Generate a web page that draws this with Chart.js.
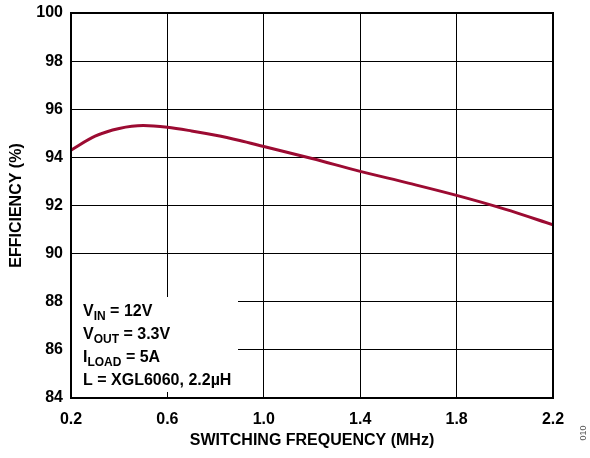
<!DOCTYPE html>
<html>
<head>
<meta charset="utf-8">
<script src="https://cdn.jsdelivr.net/npm/chart.js@4.4.0/dist/chart.umd.min.js"></script>
<style>
  html, body { margin: 0; padding: 0; background: #fff; }
  #wrap { width: 590px; height: 458px; position: relative; }
</style>
</head>
<body>
<div id="wrap"><canvas id="c" width="590" height="458"></canvas></div>
<script>
// ── Data ─────────────────────────────────────────────────────────────────────
const freqMHz    = [0.2, 0.3, 0.4, 0.5, 0.6, 0.7, 0.8, 0.9, 1.0, 1.2, 1.4, 1.6, 1.8, 2.0, 2.2];
const efficiency = [94.3, 94.88, 95.2, 95.32, 95.25, 95.1, 94.92, 94.7, 94.45, 93.95, 93.42, 92.93, 92.42, 91.85, 91.2];
const yTicks     = [84, 86, 88, 90, 92, 94, 96, 98, 100];
const xTicks     = [0.2, 0.6, 1.0, 1.4, 1.8, 2.2];
const noteLines  = [
  ["V", "IN", " = 12V"],
  ["V", "OUT", " = 3.3V"],
  ["I", "LOAD", " = 5A"],
  ["L = XGL6060, 2.2\u00B5H", "", ""],
];

const FONT = "'Liberation Sans', Arial, sans-serif";

// ── Frame + conditions box + figure code ────────────────────────────────────
const overlay = {
  id: "overlay",
  afterDraw(chart) {
    const { ctx, chartArea: a } = chart;
    ctx.save();
    // white box over the grid in the lower left
    ctx.fillStyle = "#fff";
    ctx.fillRect(a.left + 1, 297, 166, 95);

    ctx.fillStyle = "#000";
    ctx.textBaseline = "alphabetic";
    noteLines.forEach((ln, i) => {
      const y = 316 + i * 23;
      let x = 83;
      ctx.font = "bold 16px " + FONT;
      ctx.fillText(ln[0], x, y);
      x += ctx.measureText(ln[0]).width;
      if (ln[1]) {
        ctx.font = "bold 12px " + FONT;
        ctx.fillText(ln[1], x, y + 4);
        x += ctx.measureText(ln[1]).width;
        ctx.font = "bold 16px " + FONT;
        ctx.fillText(ln[2], x, y);
      }
    });

    // plot frame
    ctx.strokeStyle = "#000";
    ctx.lineWidth = 2;
    ctx.strokeRect(a.left, a.top, a.right - a.left, a.bottom - a.top);

    // figure code
    ctx.translate(584, 433);
    ctx.rotate(-Math.PI / 2);
    ctx.font = "9px " + FONT;
    ctx.fillStyle = "#555";
    ctx.textAlign = "center";
    ctx.textBaseline = "middle";
    ctx.fillText("010", 0, 0);
    ctx.restore();
  }
};

new Chart(document.getElementById("c"), {
  type: "line",
  data: {
    datasets: [{
      data: freqMHz.map((f, i) => ({ x: f, y: efficiency[i] })),
      borderColor: "#9c0b32",
      borderWidth: 3,
      pointRadius: 0,
      tension: 0.4,
      cubicInterpolationMode: "monotone",
      fill: false,
    }]
  },
  options: {
    responsive: false,
    animation: false,
    layout: { padding: { top: 13, right: 37, left: 0, bottom: 0 } },
    plugins: { legend: { display: false }, tooltip: { enabled: false } },
    scales: {
      x: {
        type: "linear",
        min: 0.2, max: 2.2,
        afterBuildTicks: (s) => { s.ticks = xTicks.map(v => ({ value: v })); },
        afterFit: (s) => { s.height = 60; s.paddingLeft = 0; s.paddingRight = 0; },
        grid: { color: "#000", lineWidth: 1, drawTicks: false },
        border: { display: false },
        ticks: {
          color: "#000", padding: 12,
          font: { family: FONT, size: 16, weight: "bold" },
          callback: (v) => v.toFixed(1),
        },
        title: {
          display: true, text: "SWITCHING FREQUENCY (MHz)", color: "#000",
          font: { family: FONT, size: 16, weight: "bold" },
          padding: { top: 0, bottom: 8 },
        },
      },
      y: {
        min: 84, max: 100,
        afterBuildTicks: (s) => { s.ticks = yTicks.map(v => ({ value: v })); },
        afterFit: (s) => { s.width = 71; s.paddingTop = 0; s.paddingBottom = 0; },
        grid: { color: "#000", lineWidth: 1, drawTicks: false },
        border: { display: false },
        ticks: {
          color: "#000", padding: 8,
          font: { family: FONT, size: 16, weight: "bold" },
        },
        title: {
          display: true, text: "EFFICIENCY (%)", color: "#000",
          font: { family: FONT, size: 16, weight: "bold" },
          padding: { top: 7, bottom: 0 },
        },
      },
    },
  },
  plugins: [overlay],
});
</script>
</body>
</html>
